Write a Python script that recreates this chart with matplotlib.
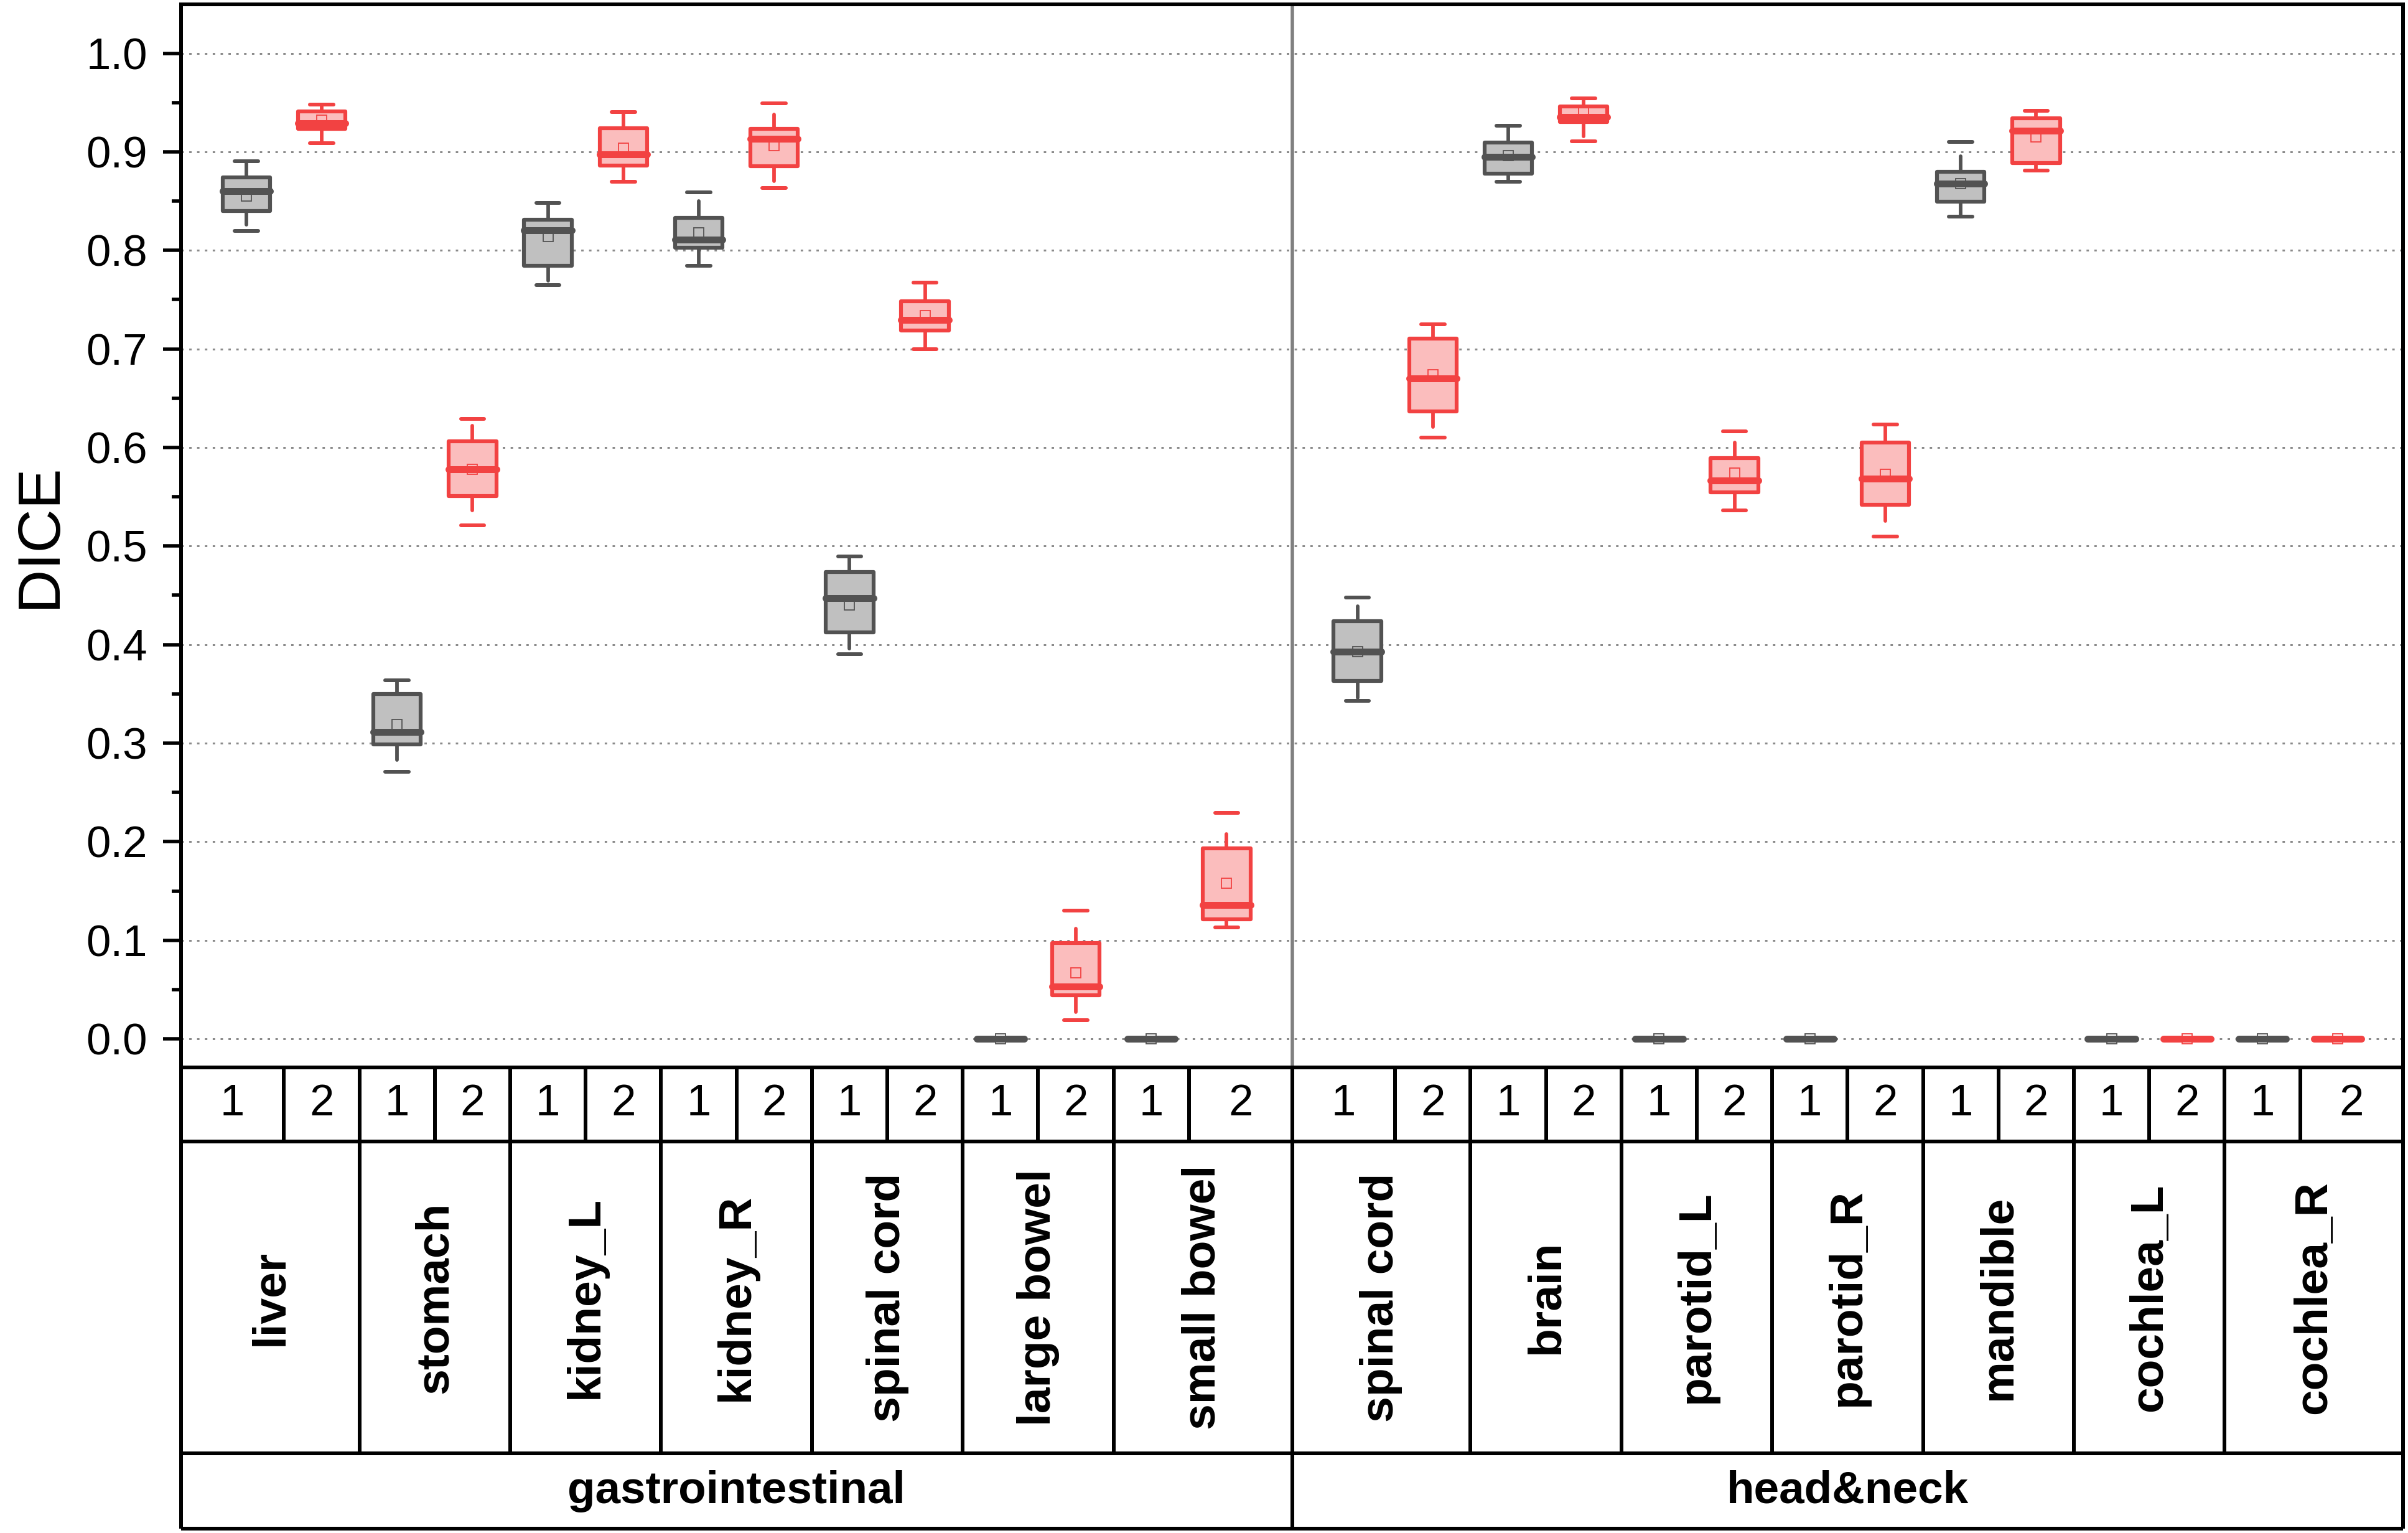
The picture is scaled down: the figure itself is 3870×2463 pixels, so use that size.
import matplotlib
matplotlib.use('Agg')
import matplotlib.pyplot as plt
import numpy as np
from matplotlib.ticker import MultipleLocator, FormatStrFormatter

plt.rcParams['font.family'] = ['Liberation Sans', 'DejaVu Sans']

# ---------------- data ----------------
group_names = ['gastrointestinal', 'head&neck']
organs_gi = ['liver', 'stomach', 'kidney_L', 'kidney_R', 'spinal cord', 'large bowel', 'small bowel']
organs_hn = ['spinal cord', 'brain', 'parotid_L', 'parotid_R', 'mandible', 'cochlea_L', 'cochlea_R']
method_labels = ['1', '2']

# method 1 (gray)
m1_q1     = [0.840, 0.2985, 0.7846, 0.8026, 0.4127, 0, 0, 0.3629, 0.878, 0, 0, 0.8497, 0, 0]
m1_med    = [0.860, 0.3116, 0.8206, 0.811, 0.4474, 0, 0, 0.3927, 0.8947, 0, 0, 0.8677, 0, 0]
m1_q3     = [0.874, 0.350, 0.831, 0.833, 0.4737, 0, 0, 0.4238, 0.9093, 0, 0, 0.880, 0, 0]
m1_mean   = [0.855, 0.319, 0.814, 0.818, 0.440, 0, 0, 0.393, 0.896, 0, 0, 0.868, 0, 0]
m1_whislo = [0.826, 0.283, 0.769, 0.7846, 0.396, 0, 0, 0.346, 0.8698, 0, 0, 0.8345, 0, 0]
m1_whishi = [0.8906, 0.3636, 0.848, 0.850, 0.4896, 0, 0, 0.439, 0.9266, 0, 0, 0.8954, 0, 0]
m1_min    = [0.820, 0.2708, 0.7645, 0.7846, 0.3906, 0, 0, 0.3428, 0.8698, 0, 0, 0.8345, 0, 0]
m1_max    = [0.8906, 0.3636, 0.848, 0.8587, 0.4896, 0, 0, 0.448, 0.9266, 0, 0, 0.910, 0, 0]

# method 2 (red)
m2_q1     = [0.923, 0.551, 0.886, 0.8857, 0.7188, 0.0443, 0.121, 0.6364, 0.930, 0.5547, 0.5416, 0.8885, 0, 0]
m2_med    = [0.929, 0.578, 0.8975, 0.9134, 0.7292, 0.0533, 0.1357, 0.670, 0.9356, 0.5665, 0.5686, 0.9217, 0, 0]
m2_q3     = [0.941, 0.6066, 0.9238, 0.923, 0.7486, 0.097, 0.193, 0.7105, 0.946, 0.589, 0.6053, 0.934, 0, 0]
m2_mean   = [0.932, 0.578, 0.904, 0.906, 0.734, 0.067, 0.158, 0.674, 0.941, 0.574, 0.573, 0.915, 0, 0]
m2_whislo = [0.909, 0.536, 0.8698, 0.870, 0.700, 0.027, 0.113, 0.621, 0.916, 0.536, 0.5256, 0.881, 0, 0]
m2_whishi = [0.948, 0.622, 0.9404, 0.9377, 0.7673, 0.112, 0.2078, 0.725, 0.9543, 0.605, 0.6233, 0.9418, 0, 0]
m2_min    = [0.909, 0.521, 0.8698, 0.8636, 0.700, 0.0187, 0.113, 0.610, 0.9107, 0.536, 0.5097, 0.881, 0, 0]
m2_max    = [0.948, 0.629, 0.9404, 0.9494, 0.7673, 0.130, 0.229, 0.725, 0.9543, 0.6163, 0.6233, 0.9418, 0, 0]

# ---------------- layout ----------------
W, H, DPI = 3870, 2463, 100
PT = 72.0 / DPI


def px(v):
    return v * PT


fig = plt.figure(figsize=(W / DPI, H / DPI), dpi=DPI)
fig.patch.set_facecolor('white')

ax_left, ax_right, ax_top, ax_bot, tab_bot = 291, 3862, 7, 1715, 2456
ax = fig.add_axes([ax_left / W, 1 - ax_bot / H, (ax_right - ax_left) / W, (ax_bot - ax_top) / H])

n_org = len(organs_gi)
GAP = 1.734
PAD = 0.865
pos_gi = np.arange(2 * n_org, dtype=float)
pos_hn = pos_gi + (2 * n_org - 1) + GAP
pos_all = np.concatenate([pos_gi, pos_hn])
pos_m1 = pos_all[0::2]
pos_m2 = pos_all[1::2]
divider = pos_gi[-1] + GAP / 2
x0, x1 = pos_gi[0] - PAD, pos_hn[-1] + PAD

GRAY_E, GRAY_F = '#525252', '#c0c0c0'
RED_E, RED_F = '#f24242', '#fbbdbd'

LW_BOX, LW_WH, LW_MED, LW_CAP = px(6.2), px(5.8), px(11), px(6.0)
BOXW = 0.63
CAPHW = 0.155


def stats(q1, med, q3, lo, hi):
    return [dict(q1=a, med=b, q3=c, whislo=d, whishi=e, fliers=[])
            for a, b, c, d, e in zip(q1, med, q3, lo, hi)]


series = [
    (stats(m1_q1, m1_med, m1_q3, m1_whislo, m1_whishi), pos_m1, m1_mean, m1_min, m1_max, GRAY_E, GRAY_F),
    (stats(m2_q1, m2_med, m2_q3, m2_whislo, m2_whishi), pos_m2, m2_mean, m2_min, m2_max, RED_E, RED_F),
]

for st, pos, mean, mn, mx, ec, fc in series:
    art = ax.bxp(st, positions=pos, widths=BOXW, patch_artist=True,
                 showcaps=False, showfliers=False, showmeans=False, manage_ticks=False,
                 boxprops=dict(facecolor=fc, edgecolor=ec, linewidth=LW_BOX, joinstyle='round'),
                 whiskerprops=dict(color=ec, linewidth=LW_WH, solid_capstyle='round'),
                 medianprops=dict(color=ec, linewidth=LW_MED, solid_capstyle='round'),
                 zorder=2)
    for m in art['medians']:
        m.set_zorder(4)
    ax.hlines(mn, pos - CAPHW, pos + CAPHW, colors=ec, lw=LW_CAP, capstyle='round', zorder=2)
    ax.hlines(mx, pos - CAPHW, pos + CAPHW, colors=ec, lw=LW_CAP, capstyle='round', zorder=2)
    ax.plot(pos, mean, ls='none', marker='s', ms=px(16), mfc='none', mec=ec, mew=px(1.8), zorder=3)

ax.axvline(divider, color='#808080', lw=px(5.5), zorder=1)

ax.set_xlim(x0, x1)
ax.set_ylim(-0.029, 1.0496)
ax.set_xticks([])
ax.yaxis.set_major_locator(MultipleLocator(0.1))
ax.yaxis.set_minor_locator(MultipleLocator(0.05))
ax.yaxis.set_major_formatter(FormatStrFormatter('%.1f'))
ax.tick_params(axis='y', which='major', length=px(29), width=px(5.5), labelsize=51,
               pad=px(25), direction='out', colors='black')
ax.tick_params(axis='y', which='minor', length=px(15), width=px(5.5), direction='out')
ax.yaxis.grid(True, which='major', color='#8a8a8a', lw=px(3), linestyle=(0, (1.3, 2.9)))
ax.set_axisbelow(True)
for s in ax.spines.values():
    s.set_linewidth(px(6))
    s.set_color('black')

fig.text(64 / W, 1 - 861 / H, 'DICE', rotation=90, ha='center', va='center', fontsize=70)

# ---------------- category table below ----------------
tab = fig.add_axes([ax_left / W, 1 - tab_bot / H, (ax_right - ax_left) / W, (tab_bot - ax_bot) / H])
tab.set_xlim(x0, x1)
r1, r2, r3 = 119, 620, tab_bot - ax_bot
tab.set_ylim(r3, 0)
tab.axis('off')
LW_T = px(6)
kw = dict(colors='black', lw=LW_T, clip_on=False)
tab.hlines([r1, r2, r3], x0, x1, **kw)
tab.vlines([x0, divider, x1], 0, r3, **kw)

for pos, glo, ghi, organs, gname in [(pos_gi, x0, divider, organs_gi, group_names[0]),
                                      (pos_hn, divider, x1, organs_hn, group_names[1])]:
    inner = pos[:-1] + 0.5
    tab.vlines(inner, 0, r1, **kw)
    tab.vlines(inner[1::2], r1, r2, **kw)
    edges = np.concatenate([[glo], inner, [ghi]])
    centers = (edges[:-1] + edges[1:]) / 2
    for i, c in enumerate(centers):
        tab.text(c, r1 / 2, method_labels[i % 2], ha='center', va='center', fontsize=51)
    org_edges = np.concatenate([[glo], inner[1::2], [ghi]])
    org_centers = (org_edges[:-1] + org_edges[1:]) / 2
    for name, c in zip(organs, org_centers):
        tab.text(c, (r1 + r2) / 2, name, rotation=90, ha='center', va='center',
                 fontsize=54, fontweight='bold')
    tab.text((glo + ghi) / 2, (r2 + r3) / 2, gname, ha='center', va='center',
             fontsize=52.5, fontweight='bold')

fig.savefig('out.png', dpi=DPI, facecolor='white')
